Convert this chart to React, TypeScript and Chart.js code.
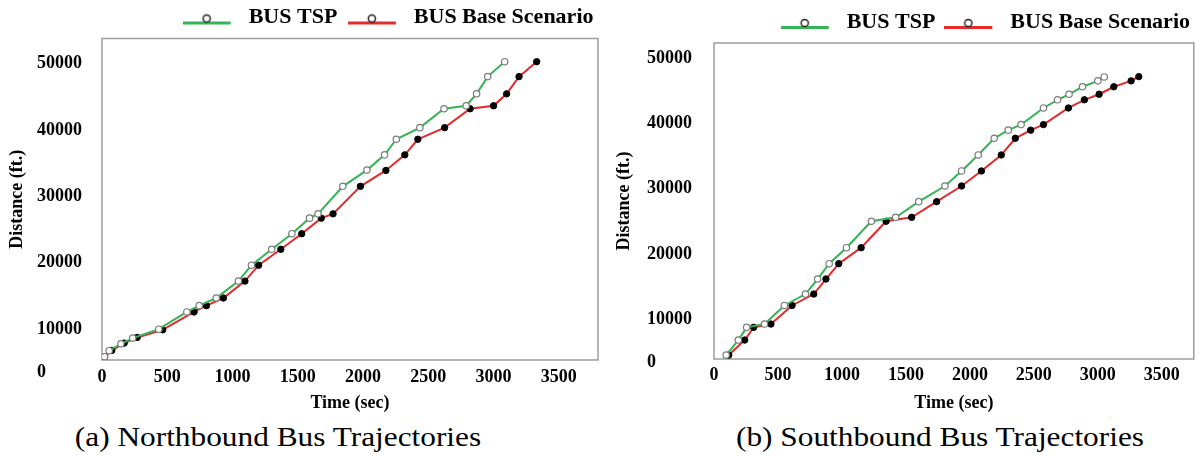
import React, { useEffect, useRef } from 'react';
import { Chart, registerables } from 'chart.js';

Chart.register(...registerables);

const SERIF = '"Liberation Serif", "Times New Roman", Times, serif';
const GREEN = '#34b553';
const RED = '#e42a2a';

const legendLabels = ['BUS TSP', 'BUS Base Scenario'];
const xTickValues = [0, 500, 1000, 1500, 2000, 2500, 3000, 3500];
const yTickValues = [10000, 20000, 30000, 40000, 50000];
const xTitle = 'Time (sec)';
const yTitle = 'Distance (ft.)';
const captionA = '(a) Northbound Bus Trajectories';
const captionB = '(b) Southbound Bus Trajectories';

// Northbound
const nbTspTime = [20, 55, 145, 235, 435, 650, 745, 875, 1045, 1145, 1300, 1455, 1590, 1655, 1845, 2030, 2165, 2255, 2435, 2620, 2790, 2870, 2955, 3085];
const nbTspDist = [5800, 6700, 7750, 8600, 9950, 12550, 13500, 14650, 17200, 19600, 22000, 24350, 26700, 27350, 31500, 33950, 36250, 38600, 40350, 43200, 43650, 45450, 48050, 50300];
const nbBaseTime = [20, 75, 170, 270, 465, 705, 800, 930, 1095, 1200, 1370, 1530, 1680, 1770, 1980, 2175, 2320, 2420, 2625, 2820, 3000, 3100, 3195, 3330];
const nbBaseDist = [5750, 6750, 7850, 8700, 9850, 12550, 13500, 14650, 17200, 19600, 22000, 24350, 26700, 27350, 31500, 33900, 36250, 38600, 40350, 43200, 43650, 45450, 48050, 50300];

// Southbound
const sbTspTime = [95, 190, 255, 395, 550, 715, 810, 900, 1035, 1230, 1420, 1600, 1805, 1935, 2065, 2190, 2300, 2400, 2575, 2685, 2775, 2880, 3000, 3050];
const sbTspDist = [4500, 6800, 8750, 9250, 12100, 13850, 16150, 18500, 20950, 25000, 25600, 28000, 30400, 32700, 35150, 37700, 38950, 39800, 42350, 43600, 44450, 45600, 46500, 47100];
const sbBaseTime = [115, 240, 310, 445, 610, 780, 875, 975, 1150, 1345, 1545, 1740, 1935, 2090, 2245, 2355, 2475, 2575, 2770, 2895, 3010, 3125, 3260, 3320];
const sbBaseDist = [4500, 6800, 8750, 9250, 12100, 13850, 16150, 18500, 20950, 25000, 25600, 28000, 30400, 32700, 35150, 37700, 38950, 39800, 42350, 43600, 44450, 45600, 46500, 47150];

function legendIcon(color: string) {
  const c = document.createElement('canvas');
  c.width = 55;
  c.height = 20;
  const ctx = c.getContext('2d')!;
  ctx.strokeStyle = color;
  ctx.lineWidth = 3;
  ctx.beginPath();
  ctx.moveTo(0, 15.5);
  ctx.lineTo(48, 15.5);
  ctx.stroke();
  ctx.beginPath();
  ctx.arc(24, 11, 3.6, 0, Math.PI * 2);
  ctx.fillStyle = '#fff';
  ctx.fill();
  ctx.strokeStyle = '#222';
  ctx.lineWidth = 1.5;
  ctx.stroke();
  return c;
}

const plotBoxPlugin = {
  id: 'plotBox',
  beforeDatasetsDraw(chart: any) {
    const { ctx, chartArea: a } = chart;
    ctx.save();
    ctx.strokeStyle = '#9c9c9c';
    ctx.lineWidth = 1.5;
    ctx.strokeRect(a.left, a.top, a.right - a.left, a.bottom - a.top);
    ctx.restore();
  },
};

const zeroLabelPlugin = {
  id: 'zeroLabel',
  afterDraw(chart: any, _args: any, opts: any) {
    const s = chart.scales.y;
    const { ctx } = chart;
    ctx.save();
    ctx.font = `bold 18px ${SERIF}`;
    ctx.fillStyle = '#000';
    ctx.textBaseline = 'middle';
    ctx.textAlign = 'left';
    const w = ctx.measureText('50000').width;
    const x = s.right - s.options.ticks.padding - w;
    ctx.fillText('0', x, chart.chartArea.bottom + opts.dy);
    ctx.restore();
  },
};

type Cfg = {
  w: number; h: number;
  tspT: number[]; tspD: number[]; baseT: number[]; baseD: number[];
  yMin: number; yMax: number; xMax: number;
  yAxisW: number; xAxisH: number; rightPad: number;
  legendPad: number; yTitlePad: number; yTickPad: number; xTickPad: number; zeroDy: number;
};

function TrajectoryChart({ cfg }: { cfg: Cfg }) {
  const ref = useRef<HTMLCanvasElement | null>(null);
  useEffect(() => {
    const icons = [legendIcon(GREEN), legendIcon(RED)];
    const tsp = cfg.tspT.map((t, i) => ({ x: t, y: cfg.tspD[i] }));
    const base = cfg.baseT.map((t, i) => ({ x: t, y: cfg.baseD[i] }));
    const scales: any = {
      x: {
        type: 'linear', min: 0, max: cfg.xMax,
        afterBuildTicks: (s: any) => { s.ticks = xTickValues.map((v) => ({ value: v })); },
        afterFit: (s: any) => { s.height = cfg.xAxisH; },
        grid: { display: false, drawTicks: false },
        border: { display: false },
        ticks: { color: '#000', padding: cfg.xTickPad, font: { family: SERIF, size: 18, weight: 'bold' }, maxRotation: 0, callback: (v: any) => String(v) },
        title: { display: true, text: xTitle, color: '#000', padding: { top: 0, bottom: 0 }, font: { family: SERIF, size: 18, weight: 'bold' } },
      },
      y: {
        type: 'linear', position: 'left', min: cfg.yMin, max: cfg.yMax,
        afterBuildTicks: (s: any) => { s.ticks = yTickValues.map((v) => ({ value: v })); },
        afterFit: (s: any) => { s.width = cfg.yAxisW; },
        grid: { display: false, drawTicks: false },
        border: { display: false },
        ticks: { color: '#000', padding: cfg.yTickPad, font: { family: SERIF, size: 18, weight: 'bold' }, callback: (v: any) => String(v) },
        title: { display: true, text: yTitle, color: '#000', padding: { top: cfg.yTitlePad, bottom: 0 }, font: { family: SERIF, size: 18, weight: 'bold' } },
      },
    };
    if (cfg.rightPad > 0) {
      scales.yRight = {
        type: 'linear', position: 'right', display: true,
        grid: { display: false, drawTicks: false },
        border: { display: false },
        ticks: { display: false },
        afterFit: (s: any) => { s.width = cfg.rightPad; },
      };
    }
    const chart = new Chart(ref.current as HTMLCanvasElement, {
      type: 'line',
      data: {
        datasets: [
          {
            label: legendLabels[0], data: tsp, yAxisID: 'y', borderColor: GREEN, borderWidth: 2,
            pointRadius: 3.2, pointBorderWidth: 1.2, pointBackgroundColor: '#fff', pointBorderColor: '#7a7a7a', tension: 0,
          },
          {
            label: legendLabels[1], data: base, yAxisID: 'y', borderColor: RED, borderWidth: 2,
            pointRadius: 3.2, pointBorderWidth: 1, pointBackgroundColor: '#000', pointBorderColor: '#000', tension: 0,
          },
        ],
      },
      options: {
        animation: false,
        responsive: false,
        devicePixelRatio: 1,
        layout: { padding: 0 },
        scales,
        plugins: {
          tooltip: { enabled: false },
          zeroLabel: { dy: cfg.zeroDy },
          legend: {
            display: true, position: 'top', align: 'end',
            labels: {
              usePointStyle: true, pointStyleWidth: 55, padding: cfg.legendPad, color: '#000',
              font: { family: SERIF, size: 22, weight: 'bold' },
              generateLabels: () => legendLabels.map((t, i) => ({
                text: t, pointStyle: icons[i] as any, fillStyle: '#fff', strokeStyle: '#000', lineWidth: 0,
                hidden: false, datasetIndex: i, fontColor: '#000',
              })),
            },
          },
        } as any,
      },
      plugins: [plotBoxPlugin, zeroLabelPlugin],
    });
    return () => chart.destroy();
  }, []);
  return <canvas ref={ref} width={cfg.w} height={cfg.h} style={{ display: 'block', width: cfg.w, height: cfg.h }} />;
}

const leftCfg: Cfg = {
  w: 604, h: 418,
  tspT: nbTspTime, tspD: nbTspDist, baseT: nbBaseTime, baseD: nbBaseDist,
  yMin: 5300, yMax: 53800, xMax: 3800,
  yAxisW: 102, xAxisH: 54, rightPad: 6,
  legendPad: 10.5, yTitlePad: 6.5, yTickPad: 20, xTickPad: 7, zeroDy: 12,
};

const rightCfg: Cfg = {
  w: 595, h: 412,
  tspT: sbTspTime, tspD: sbTspDist, baseT: sbBaseTime, baseD: sbBaseDist,
  yMin: 3900, yMax: 52300, xMax: 3750,
  yAxisW: 110, xAxisH: 55, rightPad: 0,
  legendPad: 9, yTitlePad: 10, yTickPad: 22, xTickPad: 6, zeroDy: 3,
};

const captionStyle = (cx: number): React.CSSProperties => ({
  position: 'absolute', left: cx - 300, top: 422, width: 600, textAlign: 'center',
  fontFamily: SERIF, fontSize: 27, lineHeight: '30px', color: '#000',
  transform: 'scaleX(1.16)', transformOrigin: 'center', whiteSpace: 'nowrap',
});

export default function App() {
  return (
    <div style={{ position: 'absolute', left: 0, top: 0, width: 1202, height: 456, overflow: 'hidden', background: '#fff' }}>
      <div style={{ position: 'absolute', left: 0, top: -4 }}>
        <TrajectoryChart cfg={leftCfg} />
      </div>
      <div style={{ position: 'absolute', left: 604, top: 2 }}>
        <TrajectoryChart cfg={rightCfg} />
      </div>
      <div style={captionStyle(278)}>{captionA}</div>
      <div style={captionStyle(940)}>{captionB}</div>
    </div>
  );
}
